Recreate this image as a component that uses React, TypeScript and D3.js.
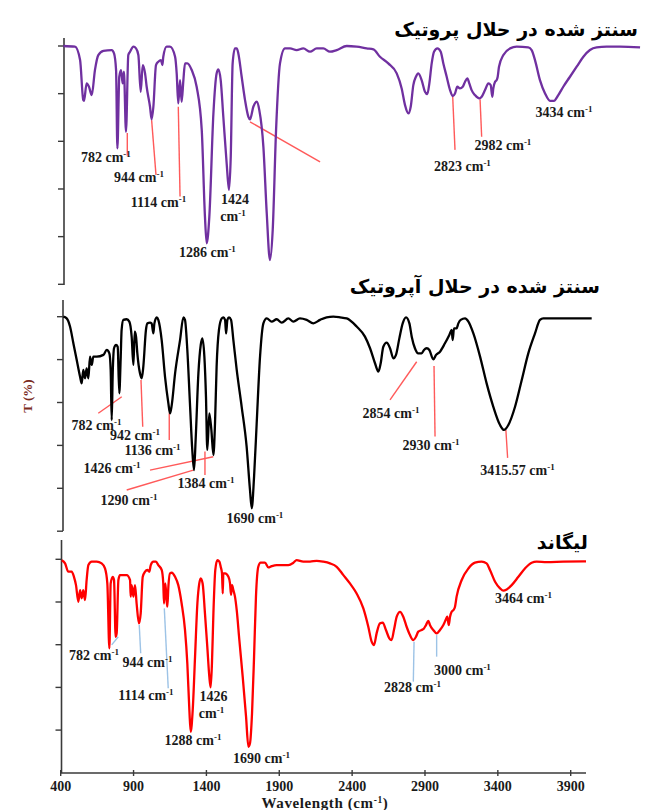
import React from 'react';
import * as d3 from 'd3';

// ---------- axis ticks ----------
const xTicks = [400, 900, 1400, 1900, 2400, 2900, 3400, 3900];
const yTicks = [0, 20, 40, 60, 80, 100];

// ---------- spectrum 1 : synthesized in protic solvent (purple) ----------
const proticWave = [418, 498, 533, 555, 560, 578, 594, 613, 635, 658, 693, 750, 766, 780, 789, 802, 814, 825, 834, 848, 864, 876, 899, 917, 933, 949, 963, 979, 990, 1013, 1024, 1036, 1054, 1070, 1088, 1098, 1104, 1127, 1150, 1185, 1196, 1207, 1219, 1230, 1242, 1253, 1269, 1299, 1333, 1368, 1390, 1402, 1420, 1448, 1470, 1482, 1498, 1516, 1539, 1555, 1567, 1580, 1596, 1608, 1619, 1642, 1665, 1688, 1699, 1722, 1745, 1763, 1791, 1814, 1836, 1855, 1878, 1905, 1939, 1974, 2019, 2065, 2111, 2157, 2202, 2248, 2294, 2363, 2431, 2500, 2546, 2591, 2648, 2706, 2740, 2763, 2786, 2802, 2820, 2838, 2854, 2877, 2900, 2916, 2930, 2946, 2962, 2985, 3008, 3026, 3049, 3072, 3090, 3106, 3122, 3140, 3159, 3175, 3191, 3204, 3220, 3243, 3273, 3289, 3312, 3335, 3351, 3362, 3369, 3381, 3392, 3399, 3408, 3438, 3484, 3529, 3609, 3632, 3655, 3689, 3724, 3758, 3785, 3815, 3849, 3895, 3941, 3987, 4032, 4078, 4147, 4238, 4376];
const proticT = [100.0, 99.7, 94.1, 77.3, 77.0, 84.3, 82.9, 79.4, 89.9, 96.2, 98.0, 98.3, 96.9, 89.9, 57.0, 87.1, 89.9, 84.3, 89.2, 64.0, 96.2, 97.6, 99.7, 99.0, 96.2, 80.8, 92.0, 88.5, 82.9, 74.5, 69.2, 74.5, 92.0, 93.4, 94.1, 92.0, 95.5, 99.7, 99.7, 95.5, 88.5, 75.9, 85.7, 76.6, 85.7, 92.7, 92.7, 89.9, 82.9, 64.7, 28.4, 17.2, 28.4, 71.7, 88.5, 90.2, 85.7, 70.3, 50.7, 39.6, 53.5, 92.7, 99.0, 99.0, 96.9, 87.1, 77.3, 70.3, 69.2, 74.5, 76.6, 73.1, 57.7, 29.8, 10.2, 22.8, 64.7, 92.7, 99.0, 99.0, 98.3, 99.0, 97.6, 99.0, 99.0, 97.6, 98.3, 100.0, 99.7, 99.0, 98.6, 95.5, 92.7, 88.5, 82.2, 75.2, 71.7, 74.5, 83.6, 87.1, 88.5, 85.7, 80.8, 79.8, 84.3, 92.7, 97.6, 99.0, 97.6, 92.7, 87.1, 81.5, 79.0, 80.1, 82.9, 82.2, 82.9, 85.0, 86.4, 84.3, 81.5, 79.4, 78.0, 78.7, 81.5, 84.3, 83.6, 78.7, 82.2, 85.0, 85.7, 87.1, 91.3, 96.2, 99.0, 99.7, 99.4, 98.3, 94.1, 85.7, 80.1, 77.0, 77.0, 79.4, 82.9, 87.1, 91.3, 95.5, 98.3, 99.4, 99.7, 99.7, 99.4];

// ---------- spectrum 2 : synthesized in aprotic solvent (black) ----------
const aproticWave = [418, 441, 464, 487, 510, 533, 544, 555, 567, 578, 590, 601, 613, 624, 647, 693, 716, 734, 743, 750, 757, 766, 780, 791, 802, 812, 818, 830, 853, 871, 887, 899, 908, 917, 926, 944, 956, 967, 985, 995, 1013, 1024, 1036, 1043, 1059, 1070, 1093, 1116, 1139, 1150, 1162, 1185, 1219, 1242, 1253, 1269, 1287, 1303, 1315, 1326, 1345, 1361, 1372, 1386, 1397, 1406, 1420, 1434, 1448, 1459, 1470, 1486, 1505, 1516, 1528, 1535, 1544, 1555, 1569, 1585, 1608, 1642, 1676, 1699, 1711, 1727, 1745, 1768, 1791, 1814, 1848, 1882, 1917, 1962, 1997, 2042, 2088, 2134, 2180, 2225, 2271, 2317, 2363, 2431, 2488, 2523, 2557, 2580, 2596, 2614, 2637, 2660, 2683, 2701, 2724, 2747, 2770, 2793, 2809, 2831, 2854, 2877, 2893, 2912, 2930, 2957, 2976, 3003, 3037, 3067, 3083, 3090, 3099, 3117, 3129, 3145, 3175, 3198, 3232, 3278, 3323, 3369, 3415, 3442, 3472, 3518, 3564, 3609, 3655, 3689, 3712, 3747, 4044];
const aproticT = [100.0, 99.2, 95.4, 87.6, 79.8, 72.0, 68.9, 75.2, 71.3, 75.9, 71.3, 81.4, 77.5, 81.4, 81.4, 82.2, 84.5, 82.9, 75.2, 51.8, 73.6, 85.3, 86.8, 86.0, 64.3, 81.4, 93.8, 98.5, 98.8, 97.7, 90.7, 77.5, 93.0, 90.7, 82.9, 73.6, 71.3, 76.7, 93.8, 96.9, 97.2, 96.9, 92.2, 96.9, 99.7, 98.5, 89.1, 72.0, 59.6, 54.9, 58.8, 73.6, 89.1, 99.7, 98.5, 84.5, 59.6, 37.9, 28.5, 42.5, 73.6, 86.8, 89.9, 81.4, 62.7, 37.9, 54.9, 47.2, 35.5, 50.3, 76.7, 93.8, 99.2, 99.7, 98.5, 92.2, 98.5, 99.7, 98.5, 89.1, 75.2, 58.0, 39.4, 19.2, 10.7, 25.4, 50.3, 81.4, 96.9, 99.2, 97.7, 98.8, 97.2, 99.2, 97.7, 99.2, 98.5, 96.9, 98.5, 99.7, 100.0, 99.7, 99.2, 95.4, 90.7, 85.3, 78.3, 74.4, 78.3, 86.0, 87.9, 85.3, 80.6, 82.2, 89.9, 96.9, 99.7, 96.9, 90.7, 85.3, 82.9, 82.9, 84.5, 85.3, 84.5, 80.1, 82.2, 83.7, 87.6, 91.5, 93.8, 89.1, 94.6, 94.6, 96.9, 98.5, 99.2, 97.7, 92.2, 81.4, 68.9, 58.0, 49.5, 47.2, 49.5, 58.0, 70.5, 82.9, 92.2, 98.5, 99.2, 99.2, 99.2];

// ---------- spectrum 3 : ligand (red) ----------
const ligandWave = [407, 430, 452, 475, 491, 505, 521, 533, 544, 555, 567, 578, 590, 613, 647, 681, 704, 720, 734, 743, 757, 766, 777, 784, 796, 807, 853, 876, 880, 887, 899, 910, 921, 937, 949, 963, 979, 995, 1008, 1018, 1036, 1054, 1070, 1093, 1104, 1109, 1118, 1127, 1132, 1139, 1150, 1162, 1185, 1207, 1230, 1253, 1269, 1283, 1292, 1306, 1322, 1338, 1351, 1361, 1374, 1390, 1406, 1420, 1429, 1438, 1448, 1461, 1475, 1489, 1498, 1507, 1512, 1516, 1528, 1551, 1562, 1569, 1576, 1585, 1596, 1608, 1626, 1649, 1672, 1688, 1699, 1713, 1727, 1740, 1756, 1772, 1802, 1825, 1848, 1882, 1917, 1962, 1997, 2019, 2065, 2111, 2157, 2202, 2248, 2294, 2340, 2385, 2431, 2477, 2511, 2534, 2550, 2568, 2591, 2610, 2632, 2655, 2671, 2687, 2706, 2729, 2751, 2774, 2797, 2820, 2838, 2854, 2877, 2893, 2907, 2923, 2934, 2957, 2980, 3003, 3026, 3044, 3053, 3063, 3072, 3083, 3095, 3106, 3117, 3152, 3198, 3243, 3289, 3323, 3346, 3381, 3415, 3438, 3461, 3495, 3541, 3586, 3632, 3666, 3735, 3849, 4005];
const ligandT = [99.6, 98.1, 94.2, 94.2, 91.8, 87.9, 80.1, 85.6, 81.7, 85.6, 80.9, 90.3, 97.3, 98.9, 98.9, 98.1, 95.7, 88.7, 58.3, 88.7, 91.8, 90.3, 63.7, 65.3, 90.3, 92.6, 92.6, 90.3, 82.5, 87.9, 82.5, 87.9, 79.3, 70.0, 74.7, 91.8, 94.2, 95.0, 94.2, 97.3, 98.9, 98.9, 97.3, 95.0, 88.7, 79.3, 88.7, 80.9, 77.8, 87.2, 93.4, 93.7, 91.8, 87.9, 79.3, 66.9, 51.2, 29.4, 19.2, 29.4, 54.4, 79.3, 88.7, 91.1, 88.7, 74.7, 59.1, 45.0, 40.0, 51.2, 74.7, 95.0, 99.6, 98.9, 96.5, 93.4, 84.0, 93.4, 93.4, 91.8, 88.7, 83.3, 87.9, 85.6, 82.5, 76.2, 62.2, 45.0, 26.3, 12.2, 13.8, 27.8, 54.4, 82.5, 96.5, 98.4, 98.4, 96.2, 96.8, 97.3, 97.3, 97.3, 98.4, 99.6, 98.9, 98.9, 99.3, 98.9, 98.1, 96.5, 92.6, 88.7, 84.0, 77.0, 68.4, 61.4, 59.8, 65.3, 70.0, 70.3, 66.9, 63.0, 62.2, 66.9, 73.1, 75.4, 73.1, 68.4, 64.5, 62.2, 63.7, 66.1, 66.9, 67.6, 69.2, 71.2, 69.2, 66.9, 65.3, 66.9, 69.2, 71.9, 73.1, 69.2, 73.1, 75.4, 76.2, 77.8, 82.5, 90.3, 95.7, 98.4, 98.9, 98.1, 95.0, 89.5, 86.4, 85.3, 85.9, 87.9, 91.8, 95.7, 98.4, 98.9, 98.7, 98.9, 99.0];

// ---------- peak annotations (text anchor in wavenumber / T units) ----------
const proticLabelText = ['782', '944', '1114', '1424', '1286', '2823', '2982', '3434'];
const proticLabelWave = [710, 937, 1071, 1596, 1407, 3157, 3435, 3854];
const proticLabelT = [53.4, 45.0, 34.5, 35.4, 13.6, 49.6, 58.5, 72.3];
const proticLabelSplit = [false, false, false, true, false, false, false, false];
const proticLeaders = [
  [857, 63.5, 857, 53.9],
  [1024, 68.9, 1054, 45.9],
  [1207, 74.5, 1219, 36.8],
  [1699, 68.2, 2180, 51.4],
  [3090, 79.0, 3106, 56.4],
  [3278, 77.6, 3289, 61.9],
];

const aproticLabelText = ['782', '942', '1136', '1426', '1290', '1384', '1690', '2854', '2930', '3415.57'];
const aproticLabelWave = [646, 910, 1030, 752, 869, 1397, 1733, 2667, 2941, 3535];
const aproticLabelT = [49.5, 44.8, 37.9, 29.5, 14.5, 22.5, 6.2, 55.2, 40.2, 28.5];
const aproticLabelSplit = [false, false, false, false, false, false, false, false, false, false];
const aproticLeaders = [
  [658, 55.0, 819, 62.7],
  [951, 70.5, 963, 48.7],
  [1145, 55.0, 1145, 42.5],
  [1013, 28.5, 1447, 34.7],
  [853, 19.2, 1310, 28.5],
  [1390, 37.1, 1390, 26.2],
  [2660, 61.2, 2843, 79.0],
  [2962, 77.0, 2969, 44.1],
  [3455, 47.2, 3467, 34.2],
];

const ligandLabelText = ['782', '944', '1114', '1426', '1288', '1690', '2828', '3000', '3464'];
const ligandLabelWave = [629, 996, 985, 1449, 1308, 1778, 2814, 3157, 3576];
const ligandLabelT = [55.2, 52.0, 36.5, 35.6, 15.4, 6.9, 40.2, 48.1, 81.9];
const ligandLabelSplit = [false, false, false, true, false, false, false, false, false];
const ligandLeaders = [
  [750, 59.9, 795, 63.7],
  [939, 69.2, 949, 56.0],
  [1111, 77.0, 1138, 39.6],
  [2825, 61.4, 2820, 42.7],
  [2980, 64.5, 2980, 54.4],
];

const titles = ['سنتز شده در حلال پروتیک', 'سنتز شده در حلال آپروتیک', 'لیگاند'];

// ---------- layout ----------
const W = 645;
const H = 810;
const xAxisY = 773;
const x = d3.scaleLinear().domain([400, 3900]).range([60.7, 570.7]);
const serif = "'Liberation Serif', 'Times New Roman', serif";
const persian = "'DejaVu Sans', sans-serif";

const panels = [
  {
    wave: proticWave, t: proticT, color: '#7030a0',
    yTop: 46, yBottom: 284.3, axisX: 64, axisTop: 38, axisBottom: 285,
    lt: proticLabelText, lw: proticLabelWave, lT: proticLabelT, ls: proticLabelSplit,
    leaders: proticLeaders, leaderColor: '#ff5a5a',
    title: titles[0], titleX: 638, titleY: 36, titleSize: 19, bottomTick: true,
  },
  {
    wave: aproticWave, t: aproticT, color: '#000000',
    yTop: 316.7, yBottom: 531.2, axisX: 63, axisTop: 300, axisBottom: 531,
    lt: aproticLabelText, lw: aproticLabelWave, lT: aproticLabelT, ls: aproticLabelSplit,
    leaders: aproticLeaders, leaderColor: '#ff5a5a',
    title: titles[1], titleX: 600, titleY: 293, titleSize: 19, bottomTick: true,
  },
  {
    wave: ligandWave, t: ligandT, color: '#ff0000',
    yTop: 559.3, yBottom: 772.8, axisX: 61.5, axisTop: 540, axisBottom: 773,
    lt: ligandLabelText, lw: ligandLabelWave, lT: ligandLabelT, ls: ligandLabelSplit,
    leaders: ligandLeaders, leaderColor: '#9dc3e6',
    title: titles[2], titleX: 588, titleY: 549, titleSize: 19, bottomTick: false,
  },
];

function Label({ num, cx, cy, split, cy2 }: { num: string; cx: number; cy: number; split: boolean; cy2: number }) {
  const common = { fontFamily: serif, fontWeight: 700 as const, fontSize: 14, fill: '#1a1a1a', textAnchor: 'middle' as const };
  if (split) {
    return (
      <g>
        <text x={cx} y={cy + 4} {...common}>{num}</text>
        <text x={cx - 2} y={cy2 + 5} {...common}>
          cm<tspan fontSize={9} dy={-5}>-1</tspan>
        </text>
      </g>
    );
  }
  return (
    <text x={cx} y={cy + 5} {...common}>
      {num} cm<tspan fontSize={9} dy={-5}>-1</tspan>
    </text>
  );
}

export default function App() {
  return (
    <svg width={W} height={H} style={{ display: 'block', position: 'absolute', left: 0, top: 0, background: '#fff' }}>
      <rect width={W} height={H} fill="#ffffff" />
      {panels.map((p, i) => {
        const y = d3.scaleLinear().domain([0, 100]).range([p.yBottom, p.yTop]);
        const pts: [number, number][] = p.wave.map((w, k) => [w, p.t[k]]);
        const line = d3.line<[number, number]>()
          .x((d) => x(d[0]))
          .y((d) => y(d[1]))
          .curve(d3.curveMonotoneX);
        return (
          <g key={i}>
            {/* y axis */}
            <line x1={p.axisX} x2={p.axisX} y1={p.axisTop} y2={p.axisBottom} stroke="#3a3a3a" strokeWidth={1.6} />
            {yTicks.filter((v) => v > 0 || p.bottomTick).map((v) => (
              <line key={v} x1={p.axisX - 6} x2={p.axisX} y1={y(v)} y2={y(v)} stroke="#3a3a3a" strokeWidth={1.4} />
            ))}
            {/* leader lines */}
            {p.leaders.map((l, k) => (
              <line key={k} x1={x(l[0])} y1={y(l[1])} x2={x(l[2])} y2={y(l[3])} stroke={p.leaderColor} strokeWidth={1.4} />
            ))}
            {/* spectrum */}
            <path d={line(pts) || ''} fill="none" stroke={p.color} strokeWidth={2.3} strokeLinejoin="round" />
            {/* peak labels */}
            {p.lt.map((s, k) => (
              <Label key={k} num={s} cx={x(p.lw[k])} cy={y(p.lT[k])} split={p.ls[k]} cy2={y(p.lT[k]) + 16} />
            ))}
            {/* title */}
            <text x={p.titleX} y={p.titleY} textAnchor="end" fontFamily={persian} fontWeight={700} fontSize={p.titleSize} fill="#000">
              {p.title}
            </text>
          </g>
        );
      })}
      {/* x axis */}
      <line x1={x(400)} x2={586} y1={xAxisY} y2={xAxisY} stroke="#3a3a3a" strokeWidth={1.6} />
      {xTicks.map((v) => (
        <g key={v}>
          <line x1={x(v)} x2={x(v)} y1={xAxisY - 3} y2={xAxisY + 3} stroke="#3a3a3a" strokeWidth={1.4} />
          <text x={x(v)} y={xAxisY + 18} textAnchor="middle" fontFamily={serif} fontWeight={700} fontSize={14} fill="#1a1a1a">
            {v}
          </text>
        </g>
      ))}
      <text x={325} y={808} textAnchor="middle" fontFamily={serif} fontWeight={700} fontSize={15} fill="#1a1a1a" letterSpacing={0.6}>
        Wavelength  (cm<tspan fontSize={9.5} dy={-5}>-1</tspan><tspan dy={5}>)</tspan>
      </text>
      <text transform="translate(32,396) rotate(-90)" textAnchor="middle" fontFamily={serif} fontWeight={700} fontSize={13} fill="#7a2a1c">
        T (%)
      </text>
    </svg>
  );
}
